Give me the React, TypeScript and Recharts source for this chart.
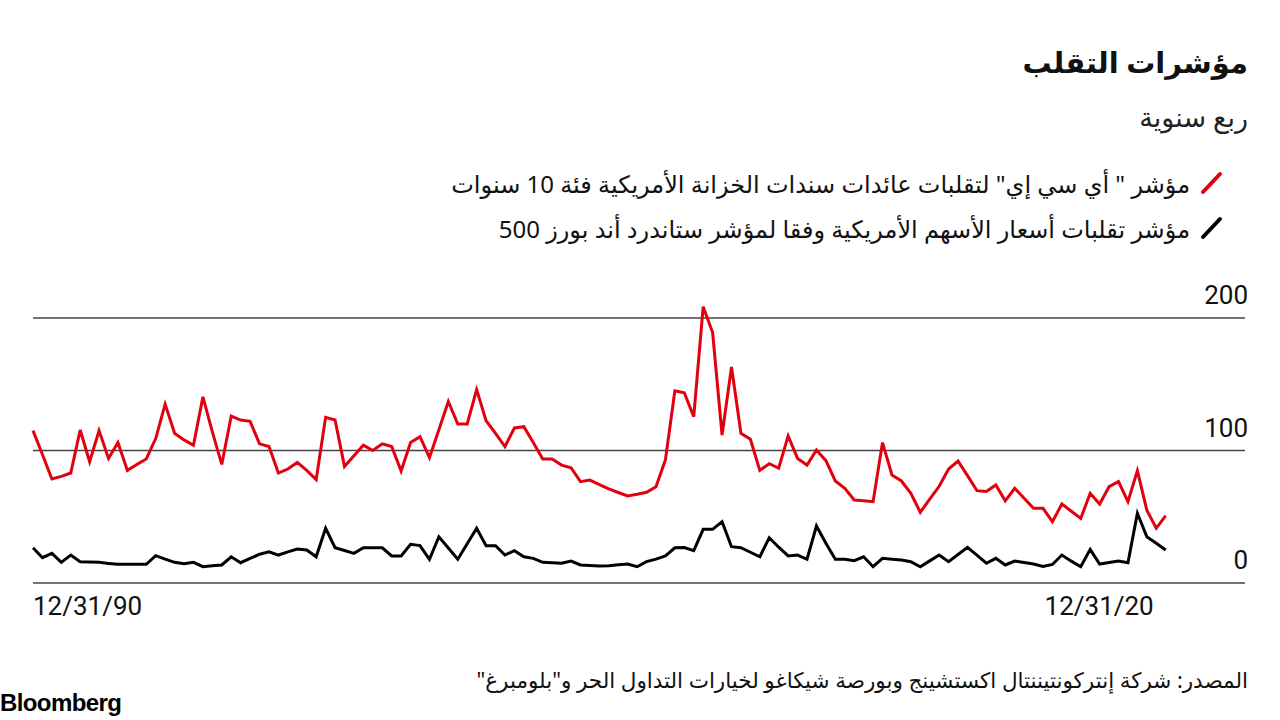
import React from "react";
import { LineChart, Line, XAxis, YAxis, ReferenceLine } from "recharts";

// Quarterly readings, 12/31/1990 .. 12/31/2020
const moveIndex = [
  115, 97, 78.5, 80.5, 83, 115.5, 91.5, 115, 94, 106,
  85, 89.5, 93.6, 109, 135, 113, 108, 104, 140.5, 114,
  89.5, 126, 123, 122, 105, 103, 83, 86, 91, 85,
  78, 125, 123, 88, 96, 104, 100, 105, 103, 84.5,
  106, 110.4, 94.6, 115.7, 137, 120, 120, 146, 122.5, 113,
  103, 117, 118, 106, 93.6, 93.6, 89, 87, 76.5, 77.7,
  74.3, 71, 68.3, 65.7, 67, 68.5, 72.7, 93, 145, 143.6,
  125.5, 208.5, 189, 111.7, 163, 113, 108.5, 85, 90, 86.6,
  111, 94, 89, 100.4, 92.3, 77, 71.5, 62.6, 62, 61.4,
  106, 81.5, 77, 67.7, 53.4, 63.3, 73, 86, 92, 81,
  69.7, 69, 74, 62, 71.5, 64, 56.4, 56.4, 46.3, 59.6,
  54.2, 48.8, 67.7, 59.6, 72.7, 76.5, 61.4, 84.8, 55, 41.3, 50.8,
];

const vixIndex = [
  26.6, 19.1, 22.4, 15.6, 21.1, 16.1, 15.8, 15.6, 14.8, 14.1,
  14.1, 14.1, 14.1, 20.6, 18, 15.6, 14.5, 15.6, 12.3, 13,
  13.6, 19.8, 15.3, 18.5, 21.7, 23.6, 21.1, 23.5, 25.7, 24.9,
  19.8, 41.3, 26.6, 24.5, 22.4, 26.6, 26.6, 26.6, 20.4, 20.4,
  29.2, 28.2, 17.9, 34.9, 26.4, 17.9, 29.6, 41.3, 28.2, 28.2,
  21.1, 24.4, 19.8, 18.6, 15.6, 15.2, 14.9, 16.6, 13.6, 13.2,
  12.8, 13.1, 13.7, 14.3, 12.3, 16.1, 18, 20.4, 26.6, 26.8,
  24.4, 40.5, 40.5, 46.3, 27.4, 26.6, 23.2, 19.8, 34.2, 27,
  20.4, 21.1, 17.9, 43, 30, 17.9, 17.9, 16.8, 19.8, 12.3,
  18.6, 18, 17.4, 16.1, 12.3, 16.7, 21.1, 16.1, 21.5, 26.9,
  21, 14.9, 18.6, 13.6, 16.6, 15.4, 14.3, 12.5, 14, 21.1,
  16.5, 12.3, 25.4, 14.3, 15.5, 16.6, 15.3, 52.6, 34.9, 30, 24.9,
];

const xTicks = [0, 120];
const xTickLabels = ["12/31/90", "12/31/20"];
const yTicks = [0, 100, 200];

const title = "مؤشرات التقلب";
const subtitle = "ربع سنوية";
const legendRed = "مؤشر \" أي سي إي\" لتقلبات عائدات سندات الخزانة الأمريكية فئة 10 سنوات";
const legendBlack = "مؤشر تقلبات أسعار الأسهم الأمريكية وفقا لمؤشر ستاندرد أند بورز 500";
const source = "المصدر: شركة إنتركونتيننتال اكستشينج وبورصة شيكاغو لخيارات التداول الحر و\"بلومبرغ\"";

const RED = "#e2000f";
const arabicFont = "'Noto Sans', 'DejaVu Sans', sans-serif";
const numFont = "'Liberation Sans Narrow', 'Roboto', sans-serif";

const data = moveIndex.map((v, i) => ({ q: i, move: v, vix: vixIndex[i] }));

// eslint-disable-next-line @typescript-eslint/no-explicit-any
function XTick({ x, y, payload }: any) {
  const idx = xTicks.indexOf(payload.value);
  const first = idx === 0;
  return (
    <text
      x={first ? x : x - 12}
      y={y + 24}
      textAnchor={first ? "start" : "end"}
      fontFamily={numFont}
      fontSize={26}
      fill="#111"
    >
      {xTickLabels[idx]}
    </text>
  );
}

// eslint-disable-next-line @typescript-eslint/no-explicit-any
function YTick({ y, payload, viewBox }: any) {
  // right-aligned just past the plot's right edge, sitting above its gridline
  const left = viewBox ? viewBox.x : 1245;
  return (
    <text x={left + 3} y={y - 14} textAnchor="end" fontFamily={numFont} fontSize={26} fill="#111">
      {payload.value}
    </text>
  );
}

function Slash({ color }: { color: string }) {
  return (
    <svg width={24} height={24} style={{ display: "block" }}>
      <line x1={3} y1={21} x2={20} y2={3} stroke={color} strokeWidth={4} strokeLinecap="round" />
    </svg>
  );
}

export default function App() {
  return (
    <div style={{ position: "absolute", left: 0, top: 0, width: 1280, height: 720, background: "#fff", overflow: "hidden" }}>
      <div
        dir="rtl"
        style={{ position: "absolute", right: 32, top: 42, fontFamily: arabicFont, fontWeight: 700, fontSize: 29, color: "#111" }}
      >
        {title}
      </div>
      <div
        dir="rtl"
        style={{ position: "absolute", right: 32, top: 98, fontFamily: arabicFont, fontSize: 27, color: "#222" }}
      >
        {subtitle}
      </div>
      <div dir="rtl" style={{ position: "absolute", right: 56, top: 164, fontFamily: arabicFont, fontSize: 24, color: "#111" }}>
        <div style={{ display: "flex", alignItems: "center", gap: 10, height: 38 }}>
          <Slash color={RED} />
          <span>{legendRed}</span>
        </div>
        <div style={{ display: "flex", alignItems: "center", gap: 10, height: 38, marginTop: 7 }}>
          <Slash color="#000" />
          <span>{legendBlack}</span>
        </div>
      </div>

      <div style={{ position: "absolute", left: 0, top: 0 }}>
        <LineChart width={1280} height={720} data={data} margin={{ top: 291.5, right: 0, bottom: 97, left: 33 }}>
          <XAxis
            type="number"
            dataKey="q"
            domain={[0, 128.4]}
            ticks={xTicks}
            tick={<XTick />}
            axisLine={false}
            tickLine={false}
            height={40}
            interval={0}
          />
          <YAxis
            orientation="right"
            domain={[0, 220]}
            ticks={yTicks}
            tick={<YTick />}
            axisLine={false}
            tickLine={false}
            tickMargin={0}
            width={35}
            interval={0}
          />
          {/* gridlines only at the labelled values */}
          {yTicks.map((t) => (
            <ReferenceLine key={t} y={t} stroke="#444" strokeWidth={1.3} />
          ))}
          <Line type="linear" dataKey="move" stroke={RED} strokeWidth={3} dot={false} isAnimationActive={false} />
          <Line type="linear" dataKey="vix" stroke="#000" strokeWidth={3} dot={false} isAnimationActive={false} />
        </LineChart>
      </div>

      <div dir="rtl" style={{ position: "absolute", right: 32, top: 665, fontFamily: arabicFont, fontSize: 21.5, color: "#111" }}>
        {source}
      </div>
      <div style={{ position: "absolute", left: 0, top: 689, fontFamily: "'Liberation Sans', Arial, sans-serif", fontWeight: 700, fontSize: 24, color: "#000", letterSpacing: -0.6 }}>
        Bloomberg
      </div>
    </div>
  );
}
